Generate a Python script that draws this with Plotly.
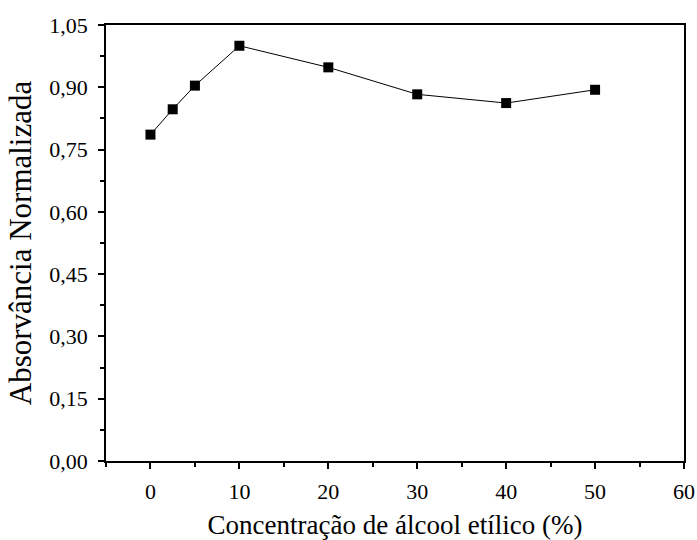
import plotly.graph_objects as go

# Ethanol concentration (%) and normalized absorbance
concentracao = [0, 2.5, 5, 10, 20, 30, 40, 50]
absorvancia = [0.786, 0.847, 0.904, 1.0, 0.948, 0.883, 0.862, 0.894]

x_ticks = [0, 10, 20, 30, 40, 50, 60]
y_ticks = [0.0, 0.15, 0.30, 0.45, 0.60, 0.75, 0.90, 1.05]
y_labels = [f"{v:.2f}".replace(".", ",") for v in y_ticks]

fig = go.Figure()
fig.add_trace(go.Scatter(
    x=concentracao, y=absorvancia,
    mode="lines+markers",
    line=dict(color="black", width=1),
    marker=dict(symbol="square", size=10, color="black"),
    showlegend=False,
))

font_family = "Liberation Serif, Times New Roman, serif"
fig.update_layout(
    width=697, height=540,
    margin=dict(l=106, r=13, t=25, b=79),
    plot_bgcolor="white", paper_bgcolor="white",
    font=dict(family=font_family, size=22, color="black"),
    xaxis=dict(
        range=[-5, 60],
        tickvals=x_ticks,
        ticks="outside", ticklen=6, tickwidth=1.5, tickcolor="black",
        minor=dict(dtick=5, tick0=0, ticks="outside", ticklen=4, tickwidth=1.5, tickcolor="black"),
        showline=True, linecolor="black", linewidth=1.6, mirror=True,
        showgrid=False, zeroline=False,
        title=dict(text="Concentração de álcool etílico (%)", font=dict(size=27), standoff=19),
        tickfont=dict(size=22),
        ticklabelstandoff=4,
        automargin=False,
    ),
    yaxis=dict(
        range=[0, 1.05],
        tickvals=y_ticks, ticktext=y_labels,
        ticks="outside", ticklen=6, tickwidth=1.5, tickcolor="black",
        minor=dict(dtick=0.075, tick0=0, ticks="outside", ticklen=4, tickwidth=1.5, tickcolor="black"),
        showline=True, linecolor="black", linewidth=1.6, mirror=True,
        showgrid=False, zeroline=False,
        title=dict(text="Absorvância Normalizada", font=dict(size=31), standoff=8),
        tickfont=dict(size=22),
        ticklabelstandoff=6,
        automargin=False,
    ),
)

fig.write_html("out.html")
